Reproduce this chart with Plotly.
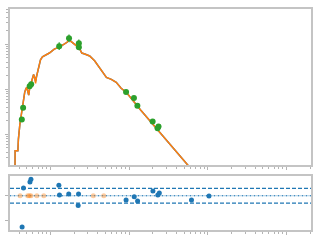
import plotly.graph_objects as go
from plotly.subplots import make_subplots

# model light curve (time in days, flux)
model_t = [0.355, 0.357, 0.387, 0.393, 0.410, 0.422, 0.434, 0.447, 0.460, 0.473, 0.487, 0.501,
           0.516, 0.531, 0.546, 0.562, 0.579, 0.596, 0.613, 0.631, 0.649, 0.668, 0.688, 0.708,
           0.729, 0.750, 0.794, 0.841, 0.917, 0.972, 1.122, 1.296, 1.496, 1.631, 1.728, 1.830,
           1.995, 2.175, 2.371, 2.512, 2.738, 3.162, 3.652, 4.217, 4.597, 4.870, 5.158, 5.957,
           6.879, 7.943, 9.173, 14.13, 25.12, 56.23, 79.43]
model_a = [0.10, 0.427, 0.427, 0.778, 1.65, 2.34, 3.16, 4.72, 6.70, 8.61, 10.0, 11.05,
           9.05, 7.41, 10.5, 12.85, 15.7, 19.17, 21.19, 18.24, 13.5, 19.17, 24.62, 28.6,
           36.74, 44.89, 52.17, 54.83, 60.63, 63.73, 77.84, 86.07, 100.0, 110.5, 125.0, 116.2,
           105.1, 90.5, 77.84, 63.73, 60.63, 54.83, 42.7, 30.08, 23.42, 20.15, 18.24, 16.5,
           14.2, 10.51, 8.61, 3.41, 1.05, 0.20, 0.10]
model_b = [0.10, 0.427, 0.427, 0.778, 1.65, 2.34, 3.16, 4.72, 6.70, 8.61, 10.0, 11.05,
           9.05, 7.41, 10.5, 12.85, 15.7, 19.17, 21.19, 18.24, 14.93, 19.17, 24.62, 28.6,
           36.74, 44.89, 52.17, 54.83, 60.63, 63.73, 77.84, 86.07, 100.0, 110.5, 125.0, 116.2,
           105.1, 90.5, 77.84, 63.73, 60.63, 54.83, 42.7, 30.08, 23.42, 20.15, 18.24, 16.5,
           14.2, 10.51, 8.61, 3.41, 1.05, 0.20, 0.10]

# observed data
obs_t = [0.434, 0.451, 0.546, 0.571, 1.296, 1.728, 2.304, 2.304, 9.173, 11.55, 12.77, 19.95, 23.71, 23.04]
obs_f = [2.12, 3.86, 11.6, 12.85, 90.5, 135.0, 105.1, 86.1, 8.61, 6.37, 4.27, 1.92, 1.49, 1.35]
obs_ep = [0.17, 0.3, 0.9, 1.0, 19.9, 30.0, 23.0, 6.5, 0.65, 0.5, 0.33, 0.15, 0.12, 0.1]
obs_em = [0.15, 0.27, 0.8, 0.9, 16.3, 24.0, 19.0, 6.0, 0.6, 0.45, 0.3, 0.14, 0.11, 0.09]

# residuals
res_t = [0.438, 0.456, 0.551, 0.567, 1.284, 1.307, 1.713, 2.259, 2.284, 9.173, 11.65, 12.84,
         20.13, 23.24, 24.27, 62.2, 103.8]
res_v = [-1.28, 0.32, 0.56, 0.68, 0.43, 0.03, 0.07, -0.40, 0.07, -0.17, -0.04, -0.21,
         0.19, 0.03, 0.11, -0.17, -0.01]
lim_t = [0.413, 0.516, 0.542, 0.567, 0.674, 0.825, 3.517, 4.774]
lim_v = [0, 0, 0, 0, 0, 0, 0, 0]
band = [-0.3, 0.3]

BLUE, ORANGE, GREEN = "#1f77b4", "#ff7f0e", "#2ca02c"
SPINE, TICK = "#c4c4c4", "#b4b4b4"

fig = make_subplots(rows=2, cols=1, shared_xaxes=False, vertical_spacing=0)

fig.add_trace(go.Scatter(x=model_t, y=model_b, mode="lines", line=dict(color=BLUE, width=1.5)), 1, 1)
fig.add_trace(go.Scatter(x=model_t, y=model_a, mode="lines", line=dict(color=ORANGE, width=1.5)), 1, 1)
fig.add_trace(go.Scatter(x=obs_t, y=obs_f, mode="markers",
                         marker=dict(color=GREEN, size=6),
                         error_y=dict(type="data", array=obs_ep, arrayminus=obs_em,
                                      color=GREEN, thickness=1.2, width=0)), 1, 1)

fig.add_trace(go.Scatter(x=lim_t, y=lim_v, mode="markers",
                         marker=dict(color=ORANGE, size=5, opacity=0.4)), 2, 1)
fig.add_trace(go.Scatter(x=res_t, y=res_v, mode="markers",
                         marker=dict(color=BLUE, size=5)), 2, 1)

fig.add_hline(y=0, line=dict(color="rgba(31,119,180,0.4)", width=1.2), layer="below",
              row=2, col=1, exclude_empty_subplots=False)
fig.add_hline(y=0, line=dict(color=BLUE, width=1.2, dash="1px,3px"), layer="below",
              row=2, col=1, exclude_empty_subplots=False)
for b in band:
    fig.add_hline(y=b, line=dict(color=BLUE, width=1.2, dash="4px,2px"), layer="below",
                  row=2, col=1, exclude_empty_subplots=False)

axis_common = dict(showgrid=False, zeroline=False, showline=True, mirror=True,
                   linecolor=SPINE, linewidth=2, showticklabels=False,
                   ticks="outside", ticklen=3, tickcolor=TICK, tickwidth=1)

fig.update_xaxes(type="log", range=[-0.5125, 3.3125], dtick=1,
                 minor=dict(ticks="outside", ticklen=2, tickcolor=TICK, dtick="D1"), **axis_common)
fig.update_yaxes(axis_common)
fig.update_yaxes(type="log", range=[-0.696, 2.783], dtick=1,
                 minor=dict(ticks="outside", ticklen=2, tickcolor=TICK, dtick="D1"), row=1, col=1)
fig.update_yaxes(range=[-1.4, 0.8], tickvals=[-1, 0], row=2, col=1)

fig.update_layout(
    width=320, height=240, showlegend=False,
    margin=dict(l=7, r=7, t=7, b=7),
    paper_bgcolor="white", plot_bgcolor="white",
    yaxis=dict(domain=[0.292, 1.0]),
    yaxis2=dict(domain=[0.0, 0.2434]),
)

fig.write_html("out.html")
